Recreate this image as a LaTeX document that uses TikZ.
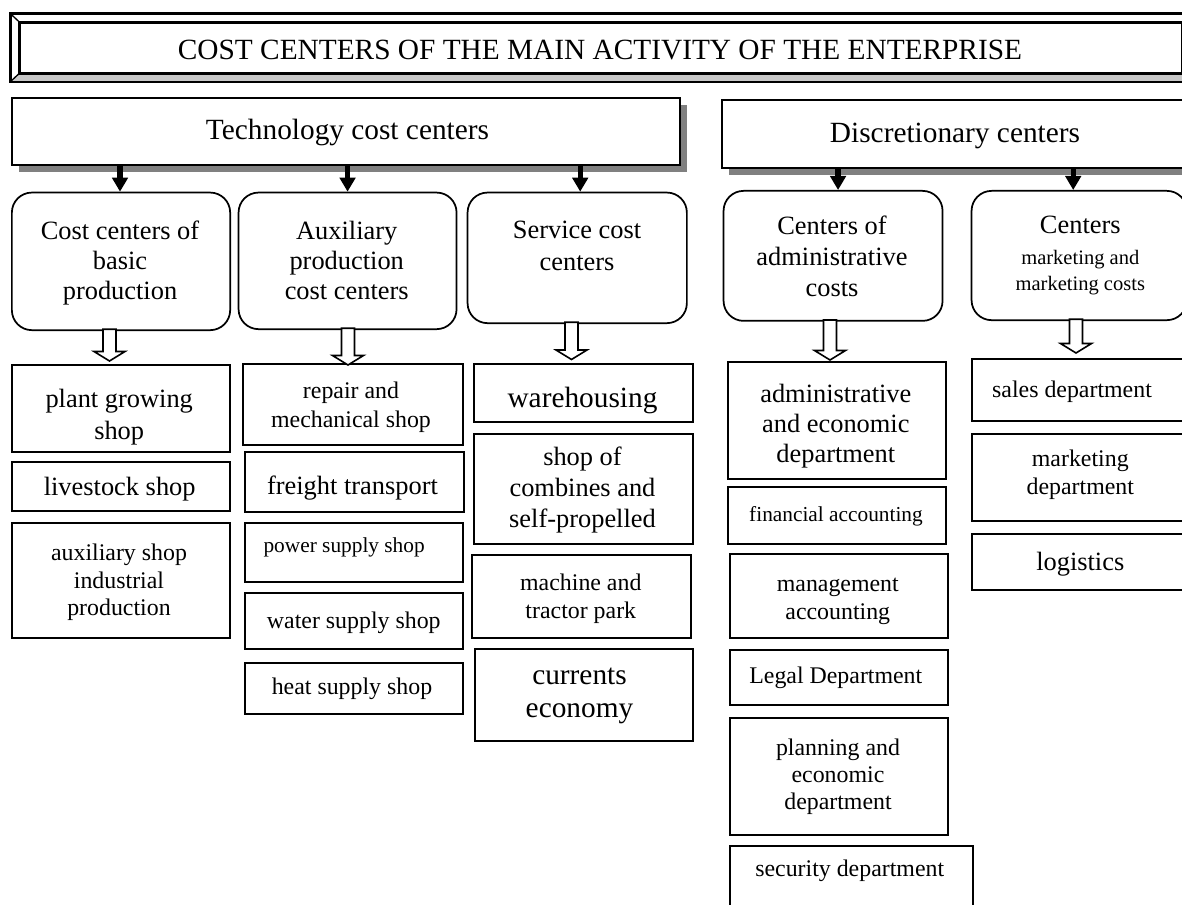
\documentclass[tikz,border=0pt]{standalone}
\usepackage{fontspec}
\setmainfont{Liberation Serif}
\usetikzlibrary{shadows,arrows.meta,calc}

\tikzset{
  box/.style={draw, line width=1.5pt, inner sep=0pt},
  rbox/.style={draw, line width=1.3pt, rounded corners=15pt, inner sep=0pt},
  hdr/.style={draw, line width=1.5pt, fill=white, inner sep=0pt,
    drop shadow={shadow xshift=5.25pt, shadow yshift=-5.25pt, fill=black!50, opacity=1}},
  frameline/.style={draw, line width=1.5pt, inner sep=0pt},
  blk/.style={line width=4pt, -{Triangle[length=10.5pt,width=11.5pt]}},
  hollow/.style={draw, line width=1.2pt, fill=white, line join=miter},
  txt/.style={anchor=base, inner sep=0pt},
}

% box node: style, name, x1, y1, x2, y2 (pixel units)
\newcommand\bx[6]{\node[#1, anchor=north west, minimum width={(#5-#3)*0.75pt}, minimum height={(#6-#4)*0.75pt}] (#2) at (#3,#4) {};}
% text node: name, x, baseline y, size, skip, lines
\newcommand\tx[6]{\node[txt] (#1) at (#2,#3) {\fontsize{#4}{#5}\selectfont\begin{tabular}[t]{@{}c@{}}#6\end{tabular}};}
% hollow block arrow: x, top y, tip y
\newcommand\harrow[3]{\draw[hollow] (#1-6.5,#2) -- (#1+6.5,#2) -- (#1+6.5,#3-9.5) -- (#1+15.5,#3-9.5) -- (#1,#3) -- (#1-15.5,#3-9.5) -- (#1-6.5,#3-9.5) -- cycle;}

\begin{document}
\begin{tikzpicture}[x=0.75pt, y=-0.75pt]
\fill[white] (0,0) rectangle (1182,905);
\useasboundingbox (0,0) rectangle (1182,905);

% ---- title frame (bevel) ----
\bx{frameline}{frm}{10}{13.3}{1190}{80}
\bx{frameline}{ttl}{19}{21.7}{1181}{71.7}
\fill[black!22] (frm.south west) -- (ttl.south west) -- (ttl.south east) -- (frm.south east) -- cycle;
\draw[line width=1.5pt] (frm.north west) rectangle (frm.south east);
\draw[line width=1.5pt] (ttl.north west) rectangle (ttl.south east);
\draw[line width=1pt] (frm.north west) -- (ttl.north west)
  (frm.south west) -- (ttl.south west)
  (frm.north east) -- (ttl.north east)
  (frm.south east) -- (ttl.south east);
\tx{title}{600}{59.5}{22}{25}{COST CENTERS OF THE MAIN ACTIVITY OF THE ENTERPRISE}

% ---- header boxes ----
\bx{hdr}{tech}{10.7}{97.3}{679}{164.3}
\bx{hdr}{disc}{721}{99.3}{1189}{166.7}
\tx{techt}{347.5}{140}{22}{25}{Technology cost centers}
\tx{disct}{955}{142.7}{22}{25}{Discretionary centers}

% ---- rounded center boxes ----
\bx{rbox}{c1}{11}{191.7}{229.3}{329.3}
\bx{rbox}{c2}{237.7}{191.7}{455.7}{328.3}
\bx{rbox}{c3}{466.7}{191.7}{686}{322.3}
\bx{rbox}{c4}{722.7}{190}{941.7}{320}
\bx{rbox}{c5}{970.7}{190}{1186}{319.3}
\tx{c1t}{120}{239.3}{19.8}{22.5}{Cost centers of\\basic\\production}
\tx{c2t}{346.7}{239.3}{19.8}{22.5}{Auxiliary\\production\\cost centers}
\tx{c3t}{577}{238.3}{19.8}{23.8}{Service cost\\centers}
\tx{c4t}{832}{235}{19.8}{23.2}{Centers of\\administrative\\costs}
\tx{c5ta}{1080.3}{234}{19.8}{22.5}{Centers}
\tx{c5tb}{1080.3}{264.5}{15.4}{19.7}{marketing and\\marketing costs}

% ---- black arrows ----
\coordinate (a1) at ($(c1.north)+(-1,0)$);
\coordinate (a2) at (c2.north);
\coordinate (a3) at ($(c3.north)+(3,0)$);
\coordinate (a4) at ($(c4.north)+(5,0)$);
\coordinate (a5) at ($(c5.north)+(-6,0)$);
\draw[blk] (a1 |- tech.south) -- (a1);
\draw[blk] (a2 |- tech.south) -- (a2);
\draw[blk] (a3 |- tech.south) -- (a3);
\draw[blk] (a4 |- disc.south) -- (a4);
\draw[blk] (a5 |- disc.south) -- (a5);

% ---- leaf boxes: column 1 ----
\bx{box}{l11}{11}{364}{229.3}{450.7}
\bx{box}{l12}{11}{460.7}{229.3}{510}
\bx{box}{l13}{11}{521.7}{229.3}{636.7}
\tx{l11t}{119.2}{408}{19.8}{23.5}{plant growing\\shop}
\tx{l12t}{119.7}{495}{19.8}{22.5}{livestock shop}
\tx{l13t}{119}{561}{17.9}{20.5}{auxiliary shop\\industrial\\production}

% ---- column 2 ----
\bx{box}{l21}{241.7}{362.7}{462}{444.3}
\bx{box}{l22}{243.5}{450.7}{463}{510.7}
\bx{box}{l23}{243.5}{521.7}{462}{580.7}
\bx{box}{l24}{243.5}{592.3}{462}{647.7}
\bx{box}{l25}{243.5}{661.7}{462}{713.3}
\tx{l21t}{351}{399}{17.9}{21.5}{repair and\\mechanical shop}
\tx{l22t}{352.5}{494}{19.8}{22.5}{freight transport}
\node[anchor=base west, inner sep=0pt] (l23t) at (263.3,552.5) {\fontsize{16}{18.4}\selectfont power supply shop};
\tx{l24t}{353.8}{628}{17.9}{20.8}{water supply shop}
\tx{l25t}{352}{694}{17.9}{20.8}{heat supply shop}

% ---- column 3 ----
\bx{box}{l31}{472.7}{362.7}{691.7}{420.7}
\bx{box}{l32}{472.7}{433.3}{691.7}{543.3}
\bx{box}{l33}{471}{554}{690}{636.7}
\bx{box}{l34}{474.3}{648.3}{692.3}{740}
\tx{l31t}{582.5}{408}{22}{25}{warehousing}
\tx{l32t}{582.5}{465}{19.8}{23.3}{shop of\\combines and\\self-propelled}
\tx{l33t}{580.8}{590.7}{17.9}{20.7}{machine and\\tractor park}
\tx{l34t}{579.5}{684}{22}{25}{currents\\economy}

% ---- column 4 ----
\bx{box}{l41}{726.7}{361}{945}{477.7}
\bx{box}{l42}{726.7}{485.7}{945}{542.7}
\bx{box}{l43}{729}{552.7}{947.3}{636.7}
\bx{box}{l44}{729}{649}{947.3}{704.3}
\bx{box}{l45}{729}{717.3}{947.3}{834.3}
\bx{box}{l46}{729}{845}{971.7}{925}
\tx{l41t}{835.8}{402.5}{19.8}{22.5}{administrative\\and economic\\department}
\tx{l42t}{836}{521.5}{16}{18.4}{financial accounting}
\tx{l43t}{837.8}{591}{17.9}{21.2}{management\\accounting}
\tx{l44t}{835.8}{683.5}{17.9}{20.8}{Legal Department}
\tx{l45t}{838}{755}{17.9}{20.6}{planning and\\economic\\department}
\tx{l46t}{849.7}{876}{17.9}{20.8}{security department}

% ---- column 5 ----
\bx{box}{l51}{971}{358.3}{1190}{420}
\bx{box}{l52}{971}{433.3}{1190}{520}
\bx{box}{l53}{971}{533.3}{1190}{589.3}
\tx{l51t}{1072}{398}{17.9}{20.8}{sales department}
\tx{l52t}{1080.3}{467}{17.9}{20.5}{marketing\\department}
\tx{l53t}{1080.3}{570}{19.8}{22.5}{logistics}

% ---- hollow arrows ----
\harrow{109.5}{329.3}{361}
\harrow{348}{328.3}{365}
\harrow{571.5}{322.3}{359.5}
\harrow{830}{320}{360}
\harrow{1076}{319.3}{353}
\end{tikzpicture}
\end{document}
